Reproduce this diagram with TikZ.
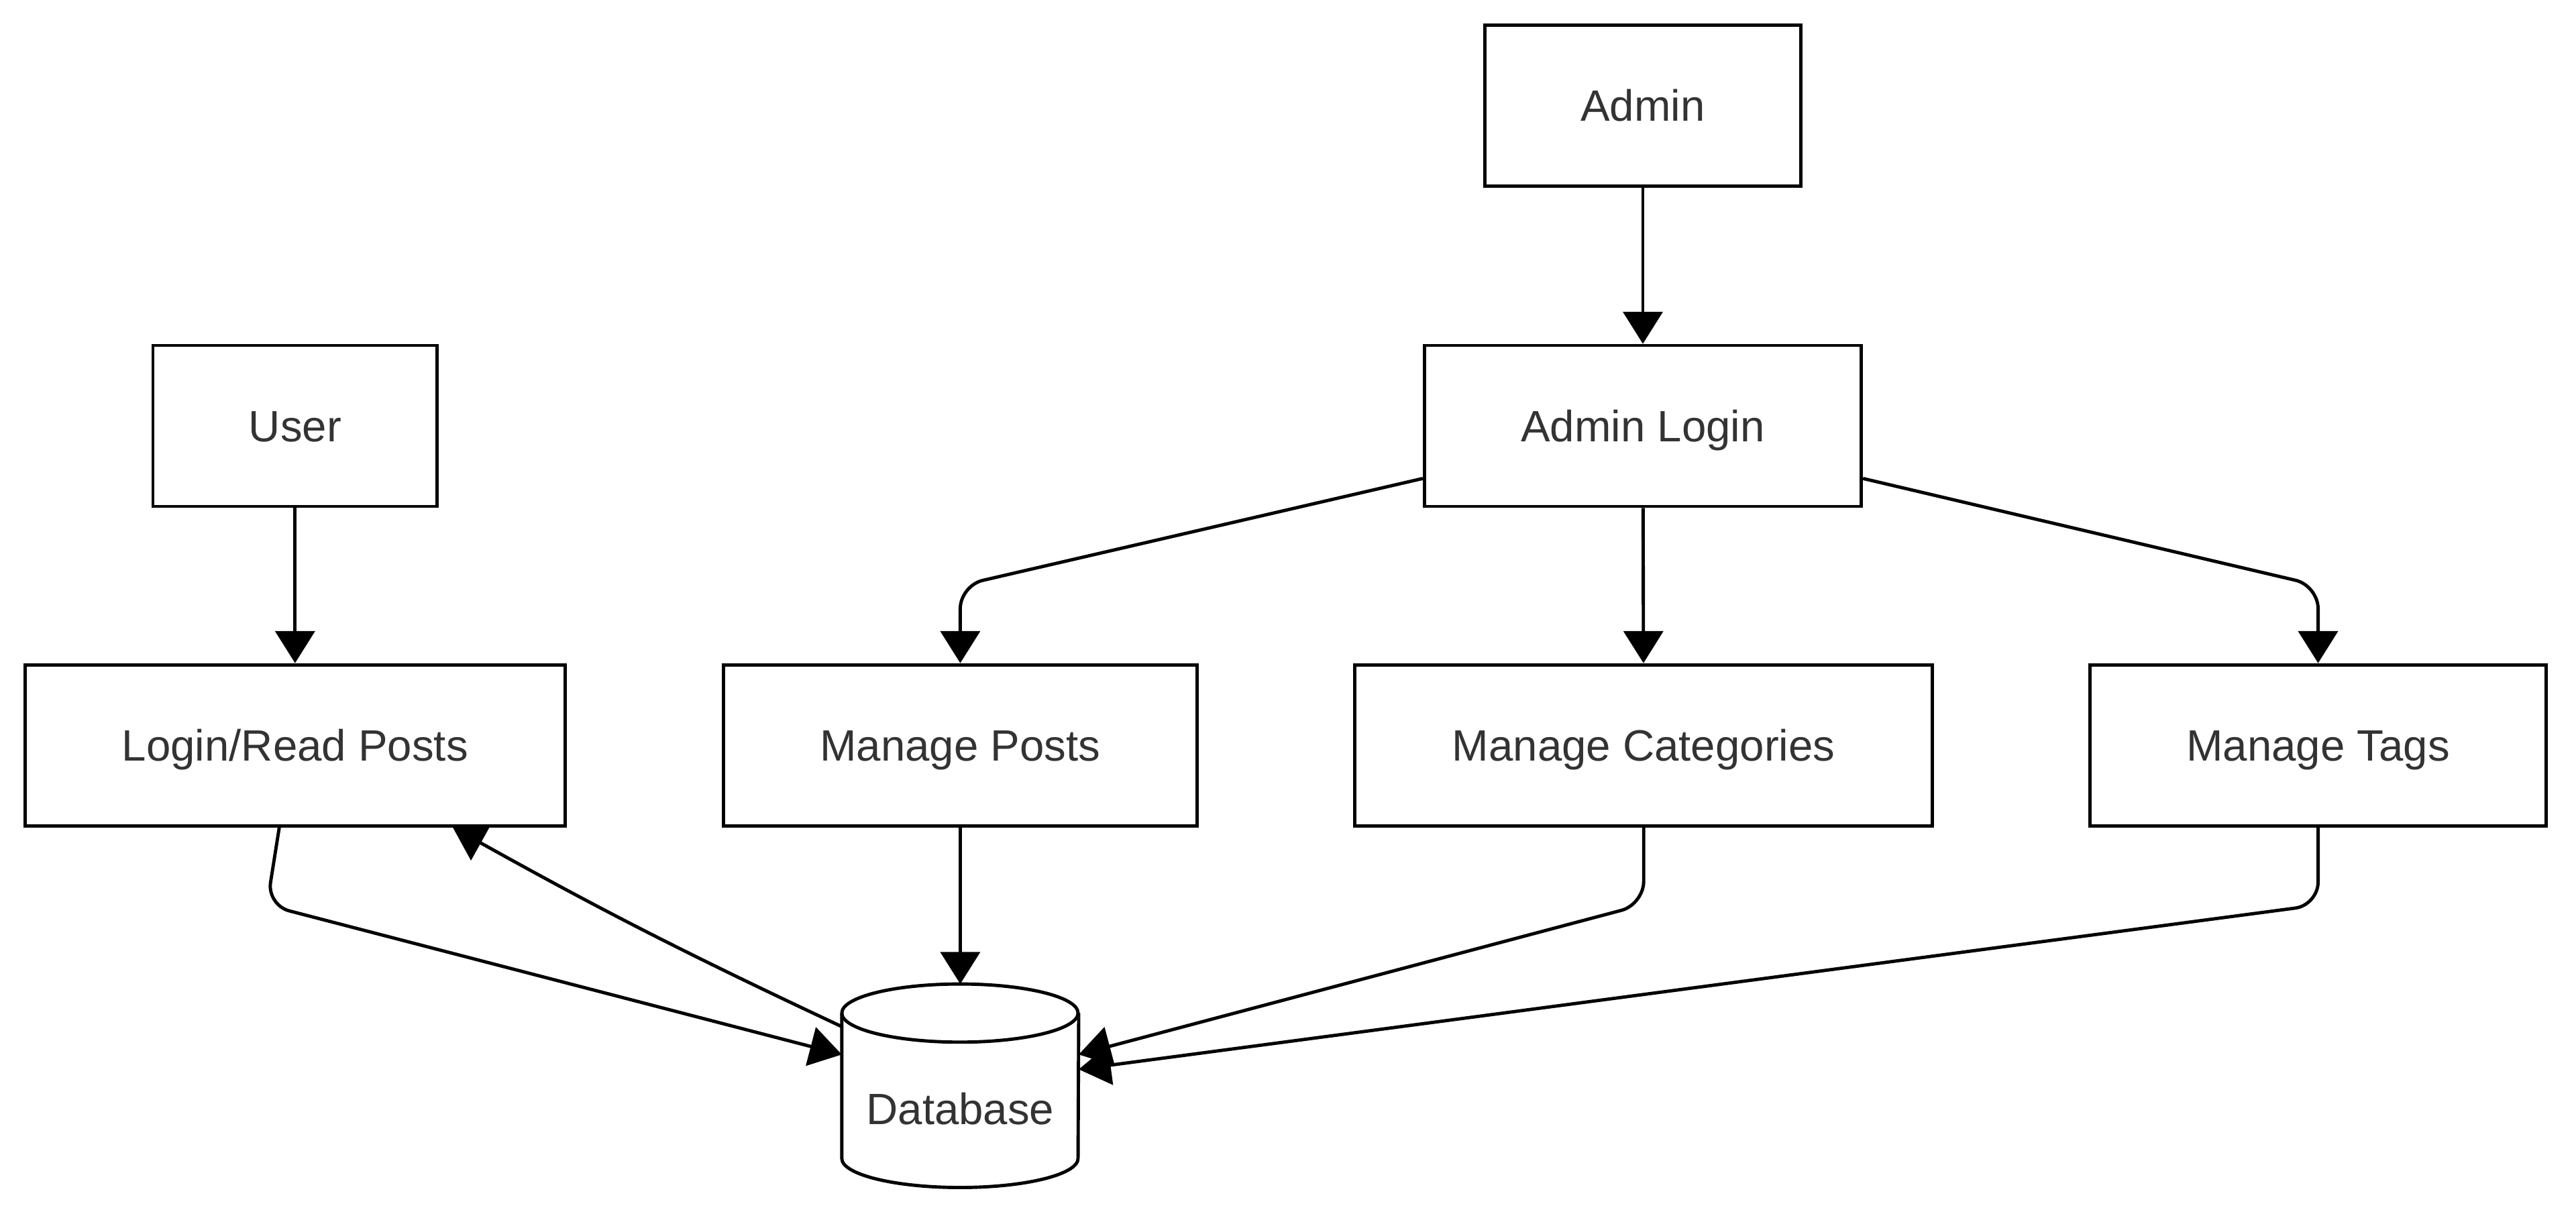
\documentclass[tikz,border=0pt]{standalone}
\usepackage{fontspec}
\setmainfont{Liberation Sans}
\usetikzlibrary{arrows.meta}
\definecolor{txtgray}{RGB}{51,51,51}
\tikzset{
  box/.style={draw, line width=2pt, fill=white, minimum height=98pt, inner sep=0pt,
    text height=19.2pt, text depth=0pt},
  flow/.style={line width=2pt, rounded corners=14pt, -{Triangle[length=19.5pt,width=24pt]}},
  dbline/.style={line width=2pt}
}

\begin{document}
\begin{tikzpicture}[
  x=1pt, y=-1pt,
  font=\fontsize{26.7}{32}\selectfont, text=txtgray
]
\useasboundingbox (0,0) rectangle (1568,740);

% boxes
\node[box, minimum width=192pt] (admin) at (1000,64.3) {Admin};
\node[box, minimum width=266pt] (alogin) at (1000,259.3) {Admin Login};
\node[box, minimum width=173pt] (user) at (179.6,259.3) {User};
\node[box, minimum width=328.7pt] (lrp) at (179.6,453.7) {Login/Read Posts};
\node[box, minimum width=288pt] (mposts) at (584.5,453.7) {Manage Posts};
\node[box, minimum width=351.4pt] (mcat) at (1000.5,453.7) {Manage Categories};
\node[box, minimum width=277.8pt] (mtags) at (1411,453.7) {Manage Tags};

% database
\node[minimum width=143.8pt, minimum height=123.5pt, inner sep=0pt,
  label={[yshift=-14pt]center:Database}] (db) at (584.5,661) {};
\draw[dbline] ([yshift=-17.7pt]db.north west) -- ([yshift=17.7pt]db.south west)
  arc[start angle=180, end angle=360, x radius=71.9pt, y radius=17.7pt]
  -- ([yshift=-17.7pt]db.north east);
\draw[dbline] ([yshift=-17.7pt]db.north west)
  arc[start angle=180, end angle=-180, x radius=71.9pt, y radius=17.7pt];

% connectors
\draw[flow] (admin) -- (alogin);
\draw[flow] (user) -- (lrp);
\draw[flow] ([yshift=-32pt]alogin.west) -- (mposts.north |- 0,356.5) -- (mposts.north);
\draw[flow] (alogin) -- (mcat);
\draw[flow] ([yshift=-32pt]alogin.east) -- (mtags.north |- 0,356.5) -- (mtags.north);
\draw[flow] ([xshift=-9.6pt]lrp.south) -- ([xshift=-17.1pt]lrp.south |- 0,551) -- ([yshift=19pt]db.west);
\draw[flow] ([yshift=36pt]db.west) to[bend left=2] ([xshift=96pt]lrp.south);
\draw[flow] (mposts.south) -- (db.north);
\draw[flow] (mcat.south) -- (mcat.south |- 0,550.6) -- ([yshift=19pt]db.east);
\draw[flow] (mtags.south) -- (mtags.south |- 0,551) -- ([yshift=10pt]db.east);
\end{tikzpicture}
\end{document}
